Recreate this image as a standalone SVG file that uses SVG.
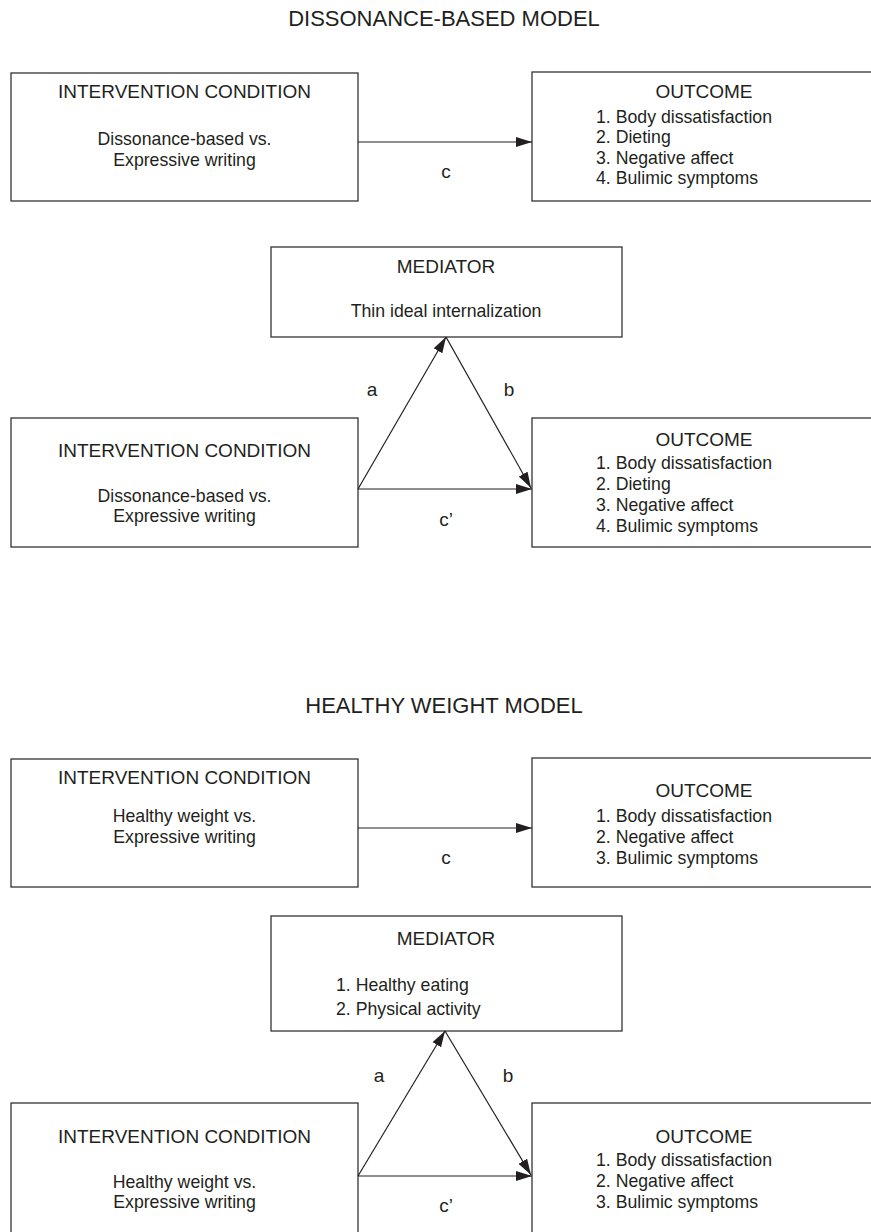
<svg xmlns="http://www.w3.org/2000/svg" width="871" height="1232" viewBox="0 0 871 1232">
<style>
text{font-family:"Liberation Sans",Arial,sans-serif;fill:#231f20}
.t{font-size:22px;text-anchor:middle}
.h{font-size:19px;text-anchor:middle}
.b{font-size:17.7px}
.m{text-anchor:middle}
.l{font-size:19px;text-anchor:middle}
.box{fill:#fff;stroke:#333;stroke-width:1.3}
.con{stroke:#231f20;stroke-width:1.2;fill:none;marker-end:url(#ah)}
</style>
<defs>
<marker id="ah" markerUnits="userSpaceOnUse" markerWidth="17" markerHeight="11" refX="16" refY="5" orient="auto">
<path d="M0,0 L16,5 L0,10 z" fill="#231f20"/>
</marker>
</defs>
<rect width="871" height="1232" fill="#fff"/>
<text class="t" x="444" y="26">DISSONANCE-BASED MODEL</text>
<text class="t" x="444" y="713">HEALTHY WEIGHT MODEL</text>

<g id="ic1">
<rect class="box" x="11" y="73" width="347" height="128"/>
<text class="h" x="184.5" y="98">INTERVENTION CONDITION</text>
<text class="b m" x="184.5" y="145">Dissonance-based vs.</text>
<text class="b m" x="184.5" y="166">Expressive writing</text>
</g>
<g id="out1">
<rect class="box" x="532" y="72" width="360" height="129"/>
<text class="h" x="704" y="98">OUTCOME</text>
<text class="b" x="596" y="123">1. Body dissatisfaction</text>
<text class="b" x="596" y="143">2. Dieting</text>
<text class="b" x="596" y="164">3. Negative affect</text>
<text class="b" x="596" y="184">4. Bulimic symptoms</text>
</g>
<g id="med1">
<rect class="box" x="271" y="247" width="351" height="90"/>
<text class="h" x="446" y="273">MEDIATOR</text>
<text class="b m" x="446" y="317">Thin ideal internalization</text>
</g>
<g id="ic2">
<rect class="box" x="11" y="418" width="347" height="129"/>
<text class="h" x="184.5" y="457">INTERVENTION CONDITION</text>
<text class="b m" x="184.5" y="502">Dissonance-based vs.</text>
<text class="b m" x="184.5" y="522">Expressive writing</text>
</g>
<g id="out2">
<rect class="box" x="532" y="418" width="360" height="129"/>
<text class="h" x="704" y="446">OUTCOME</text>
<text class="b" x="596" y="469">1. Body dissatisfaction</text>
<text class="b" x="596" y="490">2. Dieting</text>
<text class="b" x="596" y="511">3. Negative affect</text>
<text class="b" x="596" y="532">4. Bulimic symptoms</text>
</g>

<g id="ic3">
<rect class="box" x="11" y="759" width="347" height="128"/>
<text class="h" x="184.5" y="784">INTERVENTION CONDITION</text>
<text class="b m" x="184.5" y="822">Healthy weight vs.</text>
<text class="b m" x="184.5" y="843">Expressive writing</text>
</g>
<g id="out3">
<rect class="box" x="532" y="758" width="360" height="129"/>
<text class="h" x="704" y="797">OUTCOME</text>
<text class="b" x="596" y="822">1. Body dissatisfaction</text>
<text class="b" x="596" y="843">2. Negative affect</text>
<text class="b" x="596" y="864">3. Bulimic symptoms</text>
</g>
<g id="med2">
<rect class="box" x="271" y="916" width="351" height="115"/>
<text class="h" x="446" y="945">MEDIATOR</text>
<text class="b" x="336" y="991">1. Healthy eating</text>
<text class="b" x="336" y="1015">2. Physical activity</text>
</g>
<g id="ic4">
<rect class="box" x="11" y="1103" width="347" height="200"/>
<text class="h" x="184.5" y="1143">INTERVENTION CONDITION</text>
<text class="b m" x="184.5" y="1188">Healthy weight vs.</text>
<text class="b m" x="184.5" y="1208">Expressive writing</text>
</g>
<g id="out4">
<rect class="box" x="532" y="1103" width="360" height="200"/>
<text class="h" x="704" y="1143">OUTCOME</text>
<text class="b" x="596" y="1166">1. Body dissatisfaction</text>
<text class="b" x="596" y="1187">2. Negative affect</text>
<text class="b" x="596" y="1208">3. Bulimic symptoms</text>
</g>

<g id="connectors">
<line class="con" x1="358" y1="142" x2="532" y2="142"/>
<line class="con" x1="358" y1="489" x2="446" y2="337"/>
<line class="con" x1="446" y1="337" x2="531" y2="488"/>
<line class="con" x1="358" y1="489" x2="532" y2="489"/>
<line class="con" x1="358" y1="828" x2="532" y2="828"/>
<line class="con" x1="358" y1="1176" x2="445" y2="1031"/>
<line class="con" x1="445" y1="1031" x2="531" y2="1175"/>
<line class="con" x1="358" y1="1176" x2="532" y2="1176"/>
<text class="l" x="446" y="178">c</text>
<text class="l" x="372" y="396">a</text>
<text class="l" x="509" y="396">b</text>
<text class="l" x="446" y="526">c’</text>
<text class="l" x="446" y="864">c</text>
<text class="l" x="379" y="1082">a</text>
<text class="l" x="508" y="1082">b</text>
<text class="l" x="446" y="1212">c’</text>
</g>
</svg>
